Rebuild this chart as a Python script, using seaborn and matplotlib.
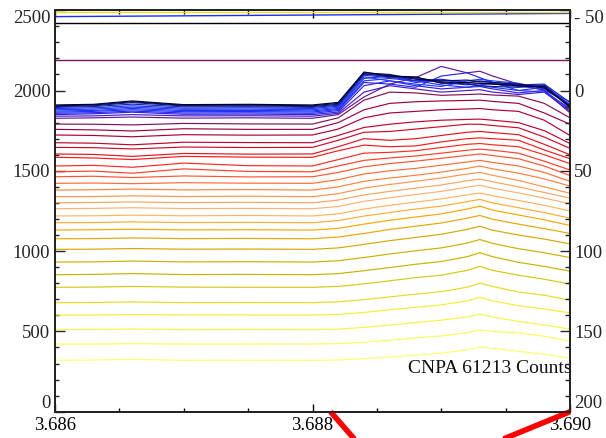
import matplotlib
matplotlib.use("Agg")
import numpy as np
import pandas as pd
import seaborn as sns
import matplotlib.pyplot as plt
from matplotlib.colors import LinearSegmentedColormap
from matplotlib.ticker import MultipleLocator, FixedLocator, NullFormatter

# Sample times (s)
time_s = [3.6860, 3.6863, 3.6866, 3.6870, 3.6875, 3.6880, 3.6882, 3.6884,
          3.6886, 3.6888, 3.6890, 3.6892, 3.6893, 3.6894, 3.6896, 3.6898, 3.6900]

# Offset CNPA counts, one row per energy channel (lowest first)
channel_counts = [
    [320, 322, 326, 320, 321, 320, 322, 330, 340, 352, 365, 385, 403, 395, 376, 358, 334],
    [421, 421, 424, 421, 421, 422, 424, 432, 445, 460, 472, 492, 509, 500, 490, 470, 440],
    [511, 512, 515, 511, 512, 511, 514, 525, 540, 555, 570, 590, 608, 590, 562, 540, 515],
    [602, 602, 605, 603, 602, 602, 606, 618, 635, 650, 665, 690, 712, 690, 660, 640, 615],
    [679, 680, 684, 679, 680, 679, 684, 698, 715, 732, 748, 775, 800, 780, 745, 725, 695],
    [775, 776, 780, 776, 775, 775, 780, 796, 815, 835, 850, 880, 905, 880, 850, 825, 795],
    [853, 855, 860, 854, 855, 853, 860, 878, 898, 918, 935, 965, 990, 965, 930, 905, 875],
    [932, 933, 938, 933, 934, 932, 940, 960, 982, 1002, 1020, 1050, 1072, 1048, 1015, 990, 960],
    [1011, 1012, 1016, 1012, 1013, 1011, 1020, 1042, 1065, 1085, 1105, 1135, 1155, 1130, 1100, 1075, 1045],
    [1077, 1078, 1082, 1078, 1079, 1077, 1088, 1110, 1135, 1155, 1175, 1205, 1222, 1198, 1168, 1140, 1110],
    [1131, 1133, 1136, 1132, 1133, 1131, 1142, 1168, 1192, 1212, 1232, 1262, 1280, 1255, 1225, 1195, 1160],
    [1177, 1178, 1182, 1178, 1179, 1177, 1190, 1218, 1240, 1262, 1280, 1308, 1322, 1300, 1270, 1240, 1205],
    [1219, 1220, 1224, 1220, 1222, 1219, 1232, 1262, 1285, 1305, 1325, 1350, 1362, 1345, 1315, 1285, 1250],
    [1264, 1266, 1270, 1265, 1266, 1264, 1278, 1310, 1332, 1352, 1372, 1398, 1410, 1392, 1362, 1330, 1295],
    [1301, 1303, 1306, 1302, 1304, 1301, 1318, 1350, 1372, 1392, 1412, 1438, 1448, 1432, 1400, 1365, 1330],
    [1339, 1340, 1344, 1340, 1342, 1339, 1358, 1392, 1415, 1435, 1455, 1480, 1490, 1472, 1440, 1400, 1360],
    [1380, 1382, 1386, 1381, 1383, 1380, 1400, 1435, 1455, 1472, 1492, 1515, 1530, 1512, 1485, 1450, 1405],
    [1422, 1424, 1420, 1426, 1423, 1422, 1445, 1480, 1500, 1515, 1535, 1555, 1565, 1552, 1530, 1490, 1435],
    [1463, 1466, 1458, 1468, 1462, 1463, 1490, 1525, 1545, 1560, 1578, 1596, 1605, 1595, 1575, 1530, 1470],
    [1494, 1498, 1485, 1512, 1496, 1494, 1530, 1565, 1580, 1592, 1610, 1628, 1635, 1628, 1610, 1560, 1505],
    [1530, 1534, 1522, 1548, 1532, 1530, 1570, 1610, 1615, 1625, 1645, 1665, 1670, 1662, 1650, 1600, 1545],
    [1584, 1580, 1570, 1590, 1585, 1584, 1625, 1660, 1650, 1655, 1680, 1700, 1705, 1700, 1690, 1630, 1575],
    [1605, 1602, 1590, 1608, 1604, 1605, 1650, 1700, 1690, 1700, 1720, 1740, 1745, 1738, 1725, 1665, 1600],
    [1646, 1644, 1636, 1648, 1645, 1646, 1690, 1740, 1745, 1760, 1775, 1790, 1790, 1782, 1768, 1710, 1640],
    [1675, 1672, 1662, 1678, 1676, 1675, 1720, 1770, 1790, 1805, 1815, 1820, 1822, 1815, 1800, 1750, 1670],
    [1723, 1720, 1712, 1725, 1722, 1723, 1760, 1830, 1860, 1870, 1880, 1885, 1888, 1880, 1870, 1815, 1720],
    [1758, 1755, 1748, 1762, 1758, 1758, 1800, 1880, 1920, 1930, 1935, 1938, 1940, 1932, 1920, 1860, 1790],
    [1791, 1790, 1786, 1795, 1792, 1791, 1830, 1940, 1990, 1985, 1970, 1975, 1978, 1972, 1965, 1920, 1830],
    [1827, 1830, 1835, 1828, 1830, 1827, 1850, 1960, 2040, 2080, 2150, 2110, 2120, 2090, 2040, 2000, 1860],
    [1840, 1842, 1850, 1842, 1843, 1840, 1858, 1990, 2030, 2010, 1990, 2000, 2005, 1990, 1975, 1990, 1870],
    [1850, 1855, 1865, 1852, 1853, 1850, 1866, 2030, 2060, 2030, 2010, 2020, 2025, 2010, 1985, 2000, 1880],
    [1858, 1862, 1872, 1860, 1861, 1858, 1875, 2050, 2040, 2020, 2090, 2110, 2080, 2050, 2000, 2020, 1900],
    [1865, 1870, 1880, 1868, 1869, 1866, 1882, 2060, 2075, 2060, 2035, 2020, 2035, 2045, 2030, 2005, 1915],
    [1872, 1876, 1888, 1875, 1876, 1873, 1888, 2075, 2090, 2050, 2065, 2045, 2030, 2020, 2000, 1990, 1890],
    [1880, 1884, 1896, 1883, 1884, 1880, 1895, 2085, 2060, 2040, 2025, 2060, 2070, 2060, 2045, 2010, 1930],
    [1888, 1892, 1905, 1890, 1892, 1888, 1902, 2095, 2080, 2075, 2050, 2035, 2045, 2040, 2025, 2035, 1910],
    [1895, 1900, 1915, 1898, 1899, 1895, 1908, 2100, 2095, 2060, 2070, 2050, 2060, 2050, 2035, 2040, 1925],
    [1900, 1905, 1925, 1904, 1905, 1900, 1914, 2105, 2085, 2080, 2055, 2040, 2030, 2025, 2020, 2030, 1900],
    [1905, 1910, 1930, 1908, 1910, 1905, 1920, 2110, 2100, 2070, 2060, 2065, 2055, 2050, 2040, 2015, 1905],
    [1910, 1914, 1935, 1912, 1914, 1910, 1926, 2115, 2090, 2085, 2045, 2050, 2045, 2040, 2030, 2025, 1895],
]

# Reference traces along the top of the panel: (start, end) levels
ref_levels = {
    "maroon": (2190, 2190),
    "black": (2418, 2418),
    "blue": (2460, 2480),
    "yellow": (2489, 2489),
}
ref_colors = {"maroon": "#7c1458", "black": "#000000", "blue": "#1c2cff", "yellow": "#f2e020"}

# Overlay trace on the right-hand scale
overlay_time = [3.68814, 3.68863, 3.6900]
overlay_value = [200, 245, 200]

left_ticks = [0, 500, 1000, 1500, 2000, 2500]
right_ticks = [-50, 0, 50, 100, 150, 200]
right_labels = ["- 50", "0", "50", "100", "150", "200"]
x_ticks = [3.686, 3.688, 3.690]
x_labels = ["3.686", "3.688", "3.690"]

sns.set_theme(style="ticks")
plt.rcParams["font.family"] = ["Liberation Serif", "DejaVu Serif"]

n_ch = len(channel_counts)
records = []
for ch, row in enumerate(channel_counts):
    for t, v in zip(time_s, row):
        records.append({"time": t, "counts": v, "channel": ch})
df = pd.DataFrame(records)

cmap = LinearSegmentedColormap.from_list(
    "cnpa",
    [(0.00, "#ffff70"), (0.08, "#f4ee30"), (0.15, "#c8b400"), (0.21, "#d8a800"),
     (0.26, "#ffa500"), (0.32, "#ffb878"), (0.40, "#ff8a40"), (0.46, "#ff5630"),
     (0.53, "#ff1c1c"), (0.60, "#c80828"), (0.66, "#a0003c"), (0.70, "#7c1458"),
     (0.72, "#6018a0"), (0.77, "#3020e8"), (0.88, "#1c3cff"), (0.94, "#1420a0"),
     (1.00, "#000030")])
palette = [cmap(i / (n_ch - 1)) for i in range(n_ch)]

fig = plt.figure(figsize=(6.06, 4.38), dpi=100)
ax = fig.add_axes([0.0908, 0.060, 0.8498, 0.9167])

sns.lineplot(data=df, x="time", y="counts", hue="channel", palette=palette,
             legend=False, linewidth=0.85, ax=ax, errorbar=None)

for name, (y0, y1) in ref_levels.items():
    ax.plot([time_s[0], time_s[-1]], [y0, y1], color=ref_colors[name], lw=1.0)

ax.set_xlim(3.686, 3.690)
ax.set_ylim(0, 2500)
ax.set_xlabel("")
ax.set_ylabel("")

ax.xaxis.set_major_locator(FixedLocator(x_ticks))
ax.set_xticklabels(x_labels)
ax.xaxis.set_minor_locator(MultipleLocator(0.0005))
ax.yaxis.set_major_locator(FixedLocator(left_ticks))
ax.set_yticklabels([str(v) for v in left_ticks])
ax.yaxis.set_minor_locator(MultipleLocator(100))

ax.tick_params(axis="x", which="both", direction="in", top=True, bottom=True,
               labelsize=13.5, pad=4, colors="black")
ax.tick_params(axis="x", which="major", length=5.5, width=1)
ax.tick_params(axis="x", which="minor", length=3, width=1)
ax.tick_params(axis="y", which="both", direction="in", left=True, right=False,
               labelsize=13.5, pad=3.5)
ax.tick_params(axis="y", which="major", length=7.5, width=1)
ax.tick_params(axis="y", which="minor", length=3.2, width=1)

for sp in ax.spines.values():
    sp.set_color("#222222")
    sp.set_linewidth(1.3)

ylabs = ax.get_yticklabels()
ylabs[0].set_va("bottom")
ylabs[-1].set_va("top")

ax2 = ax.twinx()
ax2.set_ylim(200, -50)
ax2.yaxis.set_major_locator(FixedLocator(right_ticks))
ax2.set_yticklabels(right_labels)
ax2.yaxis.set_minor_locator(MultipleLocator(10))
ax2.yaxis.set_minor_formatter(NullFormatter())
ax2.tick_params(axis="y", which="both", direction="in", right=True, left=False,
                labelsize=13.5, pad=3)
ax2.tick_params(axis="y", which="major", length=7.5, width=1)
ax2.tick_params(axis="y", which="minor", length=3.5, width=1)
for sp in ax2.spines.values():
    sp.set_color("#222222")
    sp.set_linewidth(1.3)
rlabs = ax2.get_yticklabels()
rlabs[0].set_va("top")
rlabs[-1].set_va("bottom")

ax2.plot(overlay_time, overlay_value, color="#ff0000", lw=4, clip_on=False,
         solid_capstyle="butt")

ax.text(1.004, 0.108, "CNPA 61213 Counts", transform=ax.transAxes,
        ha="right", va="center", fontsize=14, color="#111111")

fig.savefig("out.png", dpi=100)
